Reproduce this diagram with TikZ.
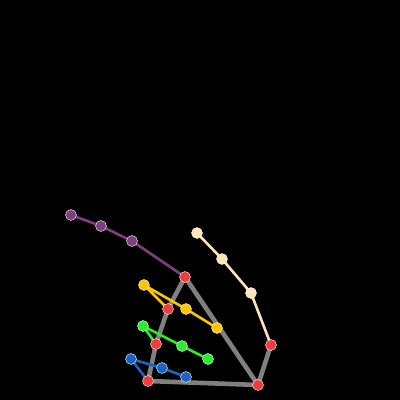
\documentclass[tikz,border=0pt]{standalone}
\usepackage{tikz}
\usetikzlibrary{backgrounds}
\definecolor{palm}{HTML}{808080}
\definecolor{kpred}{HTML}{F03C3C}
\definecolor{thumbc}{HTML}{7F3F7F}
\definecolor{indexc}{HTML}{FFC400}
\definecolor{middlec}{HTML}{2EEA2E}
\definecolor{ringc}{HTML}{1A64C4}
\definecolor{pinkyc}{HTML}{FFE4B5}

\begin{document}
\begin{tikzpicture}[
    x=1pt, y=-1pt,
    kp/.style={circle, draw=white, line width=0.4pt, minimum size=11pt, inner sep=0pt},
    bone/.style={line width=2.6pt, line join=round},
    palmbone/.style={line width=4.6pt, draw=palm, line join=round}
]
\useasboundingbox (0,0) rectangle (400,400);
% palm keypoints
\node[kp, fill=kpred] (p1) at (185,277) {};
\node[kp, fill=kpred] (p2) at (168,309) {};
\node[kp, fill=kpred] (p3) at (156,344) {};
\node[kp, fill=kpred] (p4) at (148,381) {};
\node[kp, fill=kpred] (p5) at (258,385) {};
\node[kp, fill=kpred] (p6) at (271,345) {};
% thumb
\node[kp, fill=thumbc] (t1) at (132,241) {};
\node[kp, fill=thumbc] (t2) at (101,226) {};
\node[kp, fill=thumbc] (t3) at (71,215) {};
% index
\node[kp, fill=indexc] (i1) at (144,285) {};
\node[kp, fill=indexc] (i2) at (186,309) {};
\node[kp, fill=indexc] (i3) at (217,328) {};
% middle
\node[kp, fill=middlec] (m1) at (143,326) {};
\node[kp, fill=middlec] (m2) at (182,346) {};
\node[kp, fill=middlec] (m3) at (208,359) {};
% ring
\node[kp, fill=ringc] (r1) at (131,359) {};
\node[kp, fill=ringc] (r2) at (162,368) {};
\node[kp, fill=ringc] (r3) at (186,377) {};
% pinky
\node[kp, fill=pinkyc] (k1) at (251,293) {};
\node[kp, fill=pinkyc] (k2) at (222,259) {};
\node[kp, fill=pinkyc] (k3) at (197,233) {};

\begin{scope}[on background layer]
\fill[black] (0,0) rectangle (400,400);
\draw[palmbone] (p1.center) -- (p2.center) -- (p3.center) -- (p4.center) -- (p5.center) -- (p6.center);
\draw[palmbone] (p1.center) -- (p5.center);
\draw[bone, thumbc] (p1.center) -- (t1.center) -- (t2.center) -- (t3.center);
\draw[bone, indexc] (p2.center) -- (i1.center) -- (i2.center) -- (i3.center);
\draw[bone, middlec] (p3.center) -- (m1.center) -- (m2.center) -- (m3.center);
\draw[bone, ringc] (p4.center) -- (r1.center) -- (r2.center) -- (r3.center);
\draw[bone, pinkyc] (p6.center) -- (k1.center) -- (k2.center) -- (k3.center);
\end{scope}
\end{tikzpicture}
\end{document}
